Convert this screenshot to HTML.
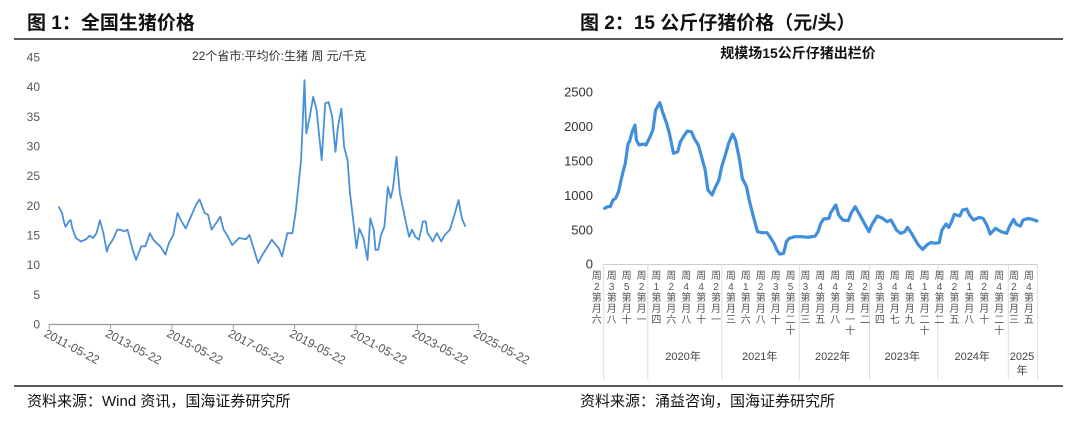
<!DOCTYPE html>
<html><head><meta charset="utf-8"><style>
body{margin:0;background:#fff;width:1080px;height:432px;overflow:hidden;font-family:"Liberation Sans","Noto Sans CJK SC",sans-serif}
svg{display:block}
</style></head><body>
<svg width="1080" height="432" viewBox="0 0 1080 432" font-family="Liberation Sans, Noto Sans CJK SC, sans-serif">
<defs><clipPath id="c2"><rect x="564" y="60" width="500" height="330"/></clipPath></defs>
<text x="27" y="29" font-size="19" font-weight="bold" fill="#111">图 1：全国生猪价格</text>
<line x1="14" y1="39" x2="540" y2="39" stroke="#222" stroke-width="1.5"/>
<text x="580" y="29" font-size="19" font-weight="bold" fill="#111">图 2：15 公斤仔猪价格（元/头）</text>
<line x1="540" y1="39" x2="1063" y2="39" stroke="#222" stroke-width="1.5"/>
<line x1="14" y1="386" x2="1063" y2="386" stroke="#222" stroke-width="1.5"/>
<text x="27" y="406" font-size="15" fill="#111">资料来源：Wind 资讯，国海证券研究所</text>
<text x="580" y="406" font-size="15" fill="#111">资料来源：涌益咨询，国海证券研究所</text>
<text x="279" y="60" font-size="12" fill="#333" text-anchor="middle">22个省市:平均价:生猪 周 元/千克</text>
<text x="798" y="58" font-size="14" font-weight="bold" fill="#111" text-anchor="middle">规模场15公斤仔猪出栏价</text>
<g id="g1"></g>
<g id="g2" clip-path="url(#c2)"></g>
</svg>
<script>
// Chart 1 data
const c1YearPos = [2011.697,2011.81,2011.866,2011.922,2012.034,2012.09,2012.146,2012.259,2012.427,2012.596,2012.708,2012.82,2012.932,2013.044,2013.157,2013.269,2013.325,2013.494,2013.606,2013.718,2013.831,2013.943,2014.111,2014.224,2014.392,2014.527,2014.673,2014.786,2014.898,2015.01,2015.178,2015.291,2015.437,2015.572,2015.706,2015.841,2016.01,2016.178,2016.291,2016.459,2016.571,2016.684,2016.83,2016.964,2017.077,2017.189,2017.357,2017.582,2017.807,2017.919,2018.088,2018.2,2018.312,2018.48,2018.649,2018.817,2018.873,2018.985,2019.154,2019.322,2019.434,2019.603,2019.715,2019.771,2019.883,2019.996,2020.108,2020.164,2020.276,2020.389,2020.501,2020.613,2020.725,2020.804,2020.916,2021.006,2021.118,2021.197,2021.276,2021.41,2021.5,2021.635,2021.769,2021.859,2021.972,2022.028,2022.118,2022.208,2022.32,2022.432,2022.522,2022.6,2022.713,2022.825,2023.05,2023.128,2023.218,2023.331,2023.443,2023.578,2023.668,2023.724,2023.836,2023.892,2024.027,2024.173,2024.285,2024.454,2024.622,2024.734,2024.847,2024.959];
const c1Values = [19.8,18.7,17.3,16.4,17.3,17.5,16.1,14.5,13.9,14.3,14.9,14.5,15.3,17.5,15.3,12.2,13.1,14.5,15.9,15.9,15.6,15.9,12.5,10.8,13.1,13.1,15.3,14.2,13.6,13.1,11.7,13.6,15.0,18.7,17.3,16.1,18.1,20.1,21.0,18.7,18.4,15.9,17.0,18.1,15.9,15.0,13.3,14.5,14.3,15.0,12.2,10.3,11.4,12.8,14.2,13.1,12.8,11.4,15.3,15.3,19.2,27.6,41.1,32.1,34.9,38.3,36.1,33.2,27.6,37.2,37.4,35.0,29.0,33.2,36.3,29.9,27.6,22.0,18.7,12.8,16.1,14.5,10.8,17.8,15.9,12.5,12.5,15.0,16.4,23.1,21.2,22.9,28.2,22.0,16.4,14.7,15.9,14.7,14.2,17.3,17.3,15.3,14.5,13.9,15.3,13.9,15.0,15.9,18.7,20.9,17.8,16.4,15.6,14.6,14.7,14.6];
const c1YTicks = [0,5,10,15,20,25,30,35,40,45];
const c1XTicks = ["2011-05-22","2013-05-22","2015-05-22","2017-05-22","2019-05-22","2021-05-22","2023-05-22","2025-05-22"];
const c1XTickYears = [2011.39,2013.39,2015.39,2017.39,2019.39,2021.39,2023.39,2025.39];
// Chart 2 data
const c2Weeks = [0,2,4,6,8,10,13,15,17,18,20,22,23,25,28,30,33,35,37,40,42,45,47,50,53,55,58,60,63,65,68,70,73,75,78,80,83,85,88,90,93,95,98,100,103,105,108,111,114,118,120,123,125,127,130,132,134,138,143,148,153,155,157,159,163,164,167,168,170,173,177,179,182,184,188,192,194,198,202,205,208,212,215,218,220,223,225,228,231,234,237,240,243,245,248,250,252,254,258,260,263,265,268,272,275,278,280,284,288,292,294,297,299,302,304,308,312,314];
const c2Values = [804,828,828,925,950,1047,1313,1458,1749,1773,1919,2015,1797,1725,1739,1725,1846,1943,2234,2340,2209,2040,1894,1604,1628,1773,1870,1928,1919,1822,1725,1580,1361,1071,998,1095,1216,1410,1604,1749,1885,1797,1507,1240,1119,925,683,465,451,451,392,296,199,141,150,320,368,392,392,383,402,465,586,649,659,732,828,853,707,635,625,732,828,756,610,465,562,693,659,610,635,489,441,465,528,441,368,271,208,271,310,296,305,489,577,528,610,717,693,780,795,707,635,673,659,548,431,514,465,441,538,644,572,548,635,659,635,620];
const c2YTicks = [0,500,1000,1500,2000,2500];
const c2Labels = ["六月第2周","八月第3周","十月第5周","一月第2周","四月第1周","六月第2周","八月第4周","十月第4周","一月第2周","三月第4周","六月第1周","八月第2周","十月第3周","十二月第5周","三月第3周","五月第4周","八月第4周","十一月第2周","二月第2周","四月第3周","七月第4周","九月第4周","十二月第1周","二月第4周","五月第2周","八月第1周","十月第2周","十二月第4周","三月第2周","五月第4周"];
const c2Years = ["","2020年","2021年","2022年","2023年","2024年","2025"];

const NS="http://www.w3.org/2000/svg";
function mk(p,tag,a,txt){const e=document.createElementNS(NS,tag);for(const k in a)e.setAttribute(k,a[k]);if(txt!==undefined)e.textContent=txt;p.appendChild(e);return e;}
// chart 1
const g1=document.getElementById('g1');
const x1=y=>49.2+(y-2011.39)*(478.6-49.2)/14;
const y1=v=>324-v*(267/45);
const ax1=mk(g1,'line',{x1:49,y1:324.5,x2:479,y2:324.5,stroke:'#999','stroke-width':1.2});


c1YTicks.forEach(v=>{const t=mk(g1,'text',{x:40,y:y1(v)+4.5,'font-size':12,fill:'#555','text-anchor':'end'},String(v));

});
c1XTicks.forEach((s,i)=>{const x=x1(c1XTickYears[i]);
const tk=mk(g1,'line',{x1:x,y1:324,x2:x,y2:329,stroke:'#999'});


const t=mk(g1,'text',{x:x-6,y:336,'font-size':12,fill:'#555',transform:`rotate(28 ${x-6} 336)`},s);

});
const l1=mk(g1,'polyline',{points:c1YearPos.map((d,i)=>x1(d).toFixed(1)+','+y1(c1Values[i]).toFixed(1)).join(' '),fill:'none',stroke:'#4a90d9','stroke-width':1.8,'stroke-linejoin':'round'});


// chart 2
const g2=document.getElementById('g2');
const x2=w=>604.7+w*(1036.9-604.7)/314;
const y2=v=>263.7-v*(172/2500);
c2YTicks.forEach(v=>{const t=mk(g2,'text',{x:593,y:y2(v)+5,'font-size':13,fill:'#333','text-anchor':'end'},String(v));

});
const ax2=mk(g2,'line',{x1:603.7,y1:264.5,x2:1037.6,y2:264.5,stroke:'#ccc'});


[603.7,647.8,721.8,799.3,869.5,937.7,1008.3,1037.6].forEach(x=>{const s=mk(g2,'line',{x1:x,y1:264,x2:x,y2:380,stroke:'#ddd','stroke-width':1});

});
c2Labels.forEach((lab,i)=>{const cx=596.8+i*14.9;const g=mk(g2,'g',{});


let chars=[...lab];let extra=null;if(chars.length>5){extra=chars.shift();}
chars.reverse().forEach((c,j)=>{mk(g,'text',{x:cx,y:279+j*11,'font-size':10,fill:'#555','text-anchor':'middle'},c);});
if(extra)mk(g,'text',{x:cx,y:334,'font-size':10,fill:'#555','text-anchor':'middle'},extra);});
const yrX=[0,683,759.7,832.7,902.3,972.2,1022];
c2Years.forEach((s,i)=>{if(!s)return;const t=mk(g2,'text',{x:yrX[i],y:360,'font-size':11,fill:'#444','text-anchor':'middle'},s);

});
const t25=mk(g2,'text',{x:1022,y:374,'font-size':11,fill:'#444','text-anchor':'middle'},'年');


const l2=mk(g2,'polyline',{points:c2Weeks.map((w,i)=>x2(w).toFixed(1)+','+y2(c2Values[i]).toFixed(1)).join(' '),fill:'none',stroke:'#3f8fdc','stroke-width':3.2,'stroke-linejoin':'round','stroke-linecap':'round'});


</script>
</body></html>
